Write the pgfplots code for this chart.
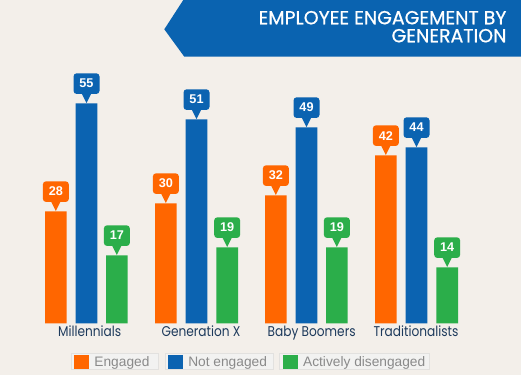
\documentclass[border=0pt]{standalone}
\usepackage{fontspec}
\setmainfont{Poppins}
\newfontfamily\numfont{Liberation Sans}
\newfontfamily\titlefont[BoldFont={Poppins}, BoldFeatures={FakeBold=0.7}]{Poppins}
\usepackage{pgfplots}
\pgfplotsset{compat=1.18}
\definecolor{bg}{HTML}{F3EFEA}
\definecolor{eorange}{HTML}{FF6600}
\definecolor{eblue}{HTML}{0B63B1}
\definecolor{egreen}{HTML}{2BAE4A}
\definecolor{navy}{HTML}{1D3A5C}
\definecolor{leggray}{HTML}{8A8A8A}
\definecolor{legbox}{HTML}{F2F2F1}
\definecolor{legborder}{HTML}{E2E1DF}
\definecolor{bannerblue}{HTML}{0A63B0}
\newcommand\legsq[1]{\hspace*{2pt}\textcolor{#1}{\rule[-1.55pt]{11.25pt}{10.5pt}}\hspace*{4.2pt}}
\pgfplotsset{
  valbox/.style={nodes near coords={\pgfmathprintnumber[assume math mode=true]{\pgfplotspointmeta}},
    every node near coord/.append style={rectangle,
      rounded corners=2.4pt, fill=#1, text=white,
      font=\numfont\bfseries\fontsize{9.5}{11}\selectfont,
      minimum width=19.5pt, minimum height=15.5pt, inner sep=0pt, anchor=south, yshift=6.8pt,
      append after command={\pgfextra{\fill[#1]%
        ([shift={(-3.6pt,0.6pt)}]\tikzlastnode.south) --%
        ([shift={(3.6pt,0.6pt)}]\tikzlastnode.south) --%
        ([shift={(0pt,-6.6pt)}]\tikzlastnode.south) -- cycle;}}}},
  noimg/.style={legend image code/.code={}},
}
\begin{document}
\begin{tikzpicture}
\fill[bg] (0,0) rectangle (390.75pt,281.25pt);
\begin{axis}[at={(0,0)}, anchor=south west, scale only axis,
  width=390.75pt, height=281.25pt,
  xmin=0, xmax=521, ymin=-12.925, ymax=80.825,
  axis x line*=middle, axis y line=none, x axis line style={draw=none},
  xtick={89.7,201,311.7,416},
  xticklabels={\scalebox{0.86}[1]{Millennials},\scalebox{0.86}[1]{Generation X},\scalebox{0.86}[1]{Baby Boomers},\scalebox{0.86}[1]{Traditionalists}},
  ytick=\empty, major tick length=0pt,
  xticklabel style={font=\fontsize{10.6}{12}\selectfont, text=navy, anchor=base, yshift=-10.2pt},
  clip=false,
  legend columns=-1, legend cell align=left,
  legend style={at={(axis cs:70.5,-9.55)}, anchor=west, draw=none, fill=none, inner sep=0pt,
    /tikz/every even column/.append style={column sep=4.1pt},
    nodes={fill=legbox, draw=legborder, line width=0.6pt, inner xsep=0pt, inner ysep=0pt,
      minimum height=12.4pt, text=leggray, font=\numfont\fontsize{10.3}{12}\selectfont}},
]
\addplot[ybar, bar width=21.7, bar shift=0pt, fill=eorange, draw=none, valbox=eorange, noimg]
  coordinates {(55.85,28) (165.85,30) (275.85,32) (385.85,42)};
\addplot[ybar, bar width=21.7, bar shift=0pt, fill=eblue, draw=none, valbox=eblue, noimg]
  coordinates {(86.5,55) (196.5,51) (306.5,49) (416.5,44)};
\addplot[ybar, bar width=21.7, bar shift=0pt, fill=egreen, draw=none, valbox=egreen, noimg]
  coordinates {(116.85,17) (227.15,19) (336.85,19) (447.15,14)};
\legend{{\legsq{eorange}Engaged\hspace*{7pt}}, {\legsq{eblue}Not engaged\hspace*{5pt}}, {\legsq{egreen}Actively disengaged\hspace*{3pt}}}
\end{axis}
\begin{scope}[x=0.75pt, y=-0.75pt, shift={(0,281.25pt)}]
\fill[bannerblue] (164.3,29.3) -- (183.3,0) -- (521,0) -- (521,56.7) -- (184.3,56.7) -- cycle;
\node[anchor=base east, text=white, font=\titlefont\bfseries\fontsize{14.2}{16}\selectfont, inner sep=0pt] at (506.7,24.3) {EMPLOYEE ENGAGEMENT BY};
\node[anchor=base east, text=white, font=\titlefont\bfseries\fontsize{14.2}{16}\selectfont, inner sep=0pt] at (506.7,42.3) {GENERATION};
\end{scope}
\end{tikzpicture}
\end{document}
